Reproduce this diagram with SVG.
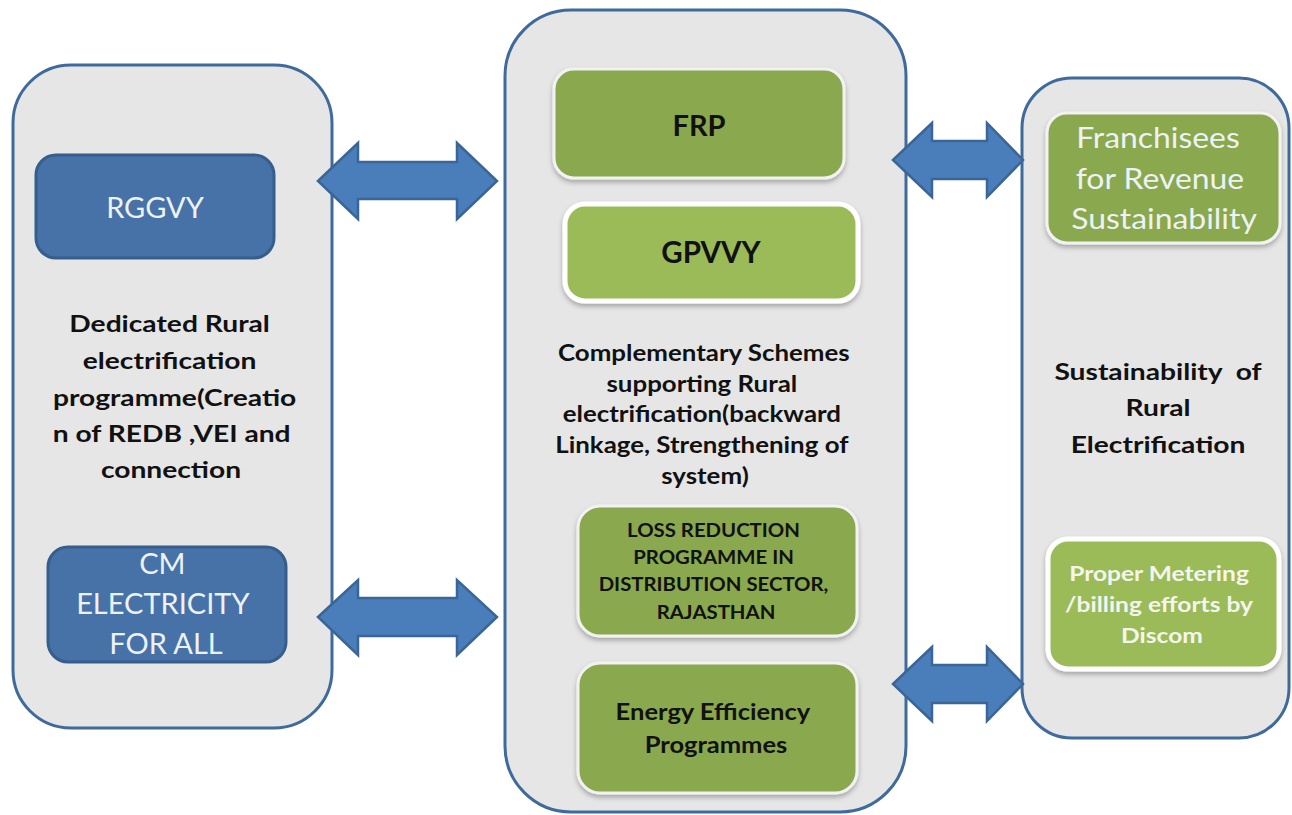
<svg xmlns="http://www.w3.org/2000/svg" width="1292" height="815" viewBox="0 0 1292 815">
  <defs>
    <filter id="shadow" x="-10%" y="-10%" width="120%" height="130%">
      <feDropShadow dx="0" dy="3" stdDeviation="2.5" flood-color="#000" flood-opacity="0.28"/>
    </filter>
    <style>
      .panel { fill: #e6e6e6; stroke: #3e6a9c; stroke-width: 3; }
      .blue { fill: #4672a8; stroke: #365e8d; stroke-width: 3; }
      .dgreen { fill: #8aa84e; stroke: #f2f2f2; stroke-width: 3; filter: url(#shadow); }
      .lgreen { fill: #9bbb59; stroke: #ffffff; stroke-width: 5; filter: url(#shadow); }
      .arrow { fill: #4a7ebb; stroke: #3a6596; stroke-width: 2.5; stroke-linejoin: miter; }
      text { font-family: Lato, "Liberation Sans", sans-serif; text-anchor: middle; }
      .dark { fill: #111; font-weight: bold; }
      .light { fill: #eef2f6; }
      .lightb { fill: #f4f6ee; font-weight: bold; }
    </style>
  </defs>

  <rect width="1292" height="815" fill="#ffffff"/>

  <!-- Left panel: dedicated rural electrification -->
  <g id="panel-dedicated">
    <rect class="panel" x="13" y="65" width="319" height="663" rx="58" ry="58"/>
    <text class="dark" font-size="23.5" transform="translate(173 0) scale(1.2 1)">
      <tspan x="0" y="332">Dedicated Rural</tspan>
      <tspan x="0" y="369">electrification</tspan>
      <tspan x="4.2" y="406">programme(Creatio</tspan>
      <tspan x="1.7" y="442">n of REDB ,VEI and</tspan>
      <tspan x="-1.7" y="478">connection</tspan>
    </text>
  </g>
  <g id="rggvy">
    <rect class="blue" x="36" y="155" width="238" height="103" rx="20" ry="20"/>
    <text class="light" x="155" y="218" font-size="29">RGGVY</text>
  </g>
  <g id="cm-electricity">
    <rect class="blue" x="48" y="547" width="238" height="115" rx="20" ry="20"/>
    <text class="light" font-size="29">
      <tspan x="166" y="574">CM</tspan>
      <tspan x="166" y="614">ELECTRICITY</tspan>
      <tspan x="166" y="654">FOR ALL</tspan>
    </text>
  </g>

  <!-- Middle panel: complementary schemes -->
  <g id="panel-complementary">
    <rect class="panel" x="505" y="10" width="401" height="802" rx="66" ry="66"/>
    <text class="dark" font-size="22.5" transform="translate(705 0) scale(1.15 1)">
      <tspan x="1.7" y="361">Complementary Schemes</tspan>
      <tspan x="0" y="392">supporting Rural</tspan>
      <tspan x="0" y="422">electrification(backward</tspan>
      <tspan x="0" y="453">Linkage, Strengthening of</tspan>
      <tspan x="0" y="484">system)</tspan>
    </text>
  </g>
  <g id="frp">
    <rect class="dgreen" x="554" y="69" width="290" height="109" rx="20" ry="20"/>
    <text class="dark" x="699" y="136" font-size="29">FRP</text>
  </g>
  <g id="gpvvy">
    <rect class="lgreen" x="565" y="204" width="293" height="97" rx="20" ry="20"/>
    <text class="dark" x="711" y="263" font-size="29.5">GPVVY</text>
  </g>
  <g id="loss-reduction">
    <rect class="dgreen" x="578" y="506" width="279" height="130" rx="22" ry="22"/>
    <text class="dark" font-size="18.5" transform="translate(716 0) scale(1.1 1)">
      <tspan x="0" y="537">LOSS REDUCTION</tspan>
      <tspan x="0" y="564">PROGRAMME IN</tspan>
      <tspan x="0" y="591">DISTRIBUTION SECTOR,</tspan>
      <tspan x="0" y="619">RAJASTHAN</tspan>
    </text>
  </g>
  <g id="energy-efficiency">
    <rect class="dgreen" x="578" y="663" width="279" height="130" rx="22" ry="22"/>
    <text class="dark" font-size="23" transform="translate(716 0) scale(1.11 1)">
      <tspan x="0" y="720">Energy Efficiency</tspan>
      <tspan x="0" y="753">Programmes</tspan>
    </text>
  </g>

  <!-- Right panel: sustainability -->
  <g id="panel-sustainability">
    <rect class="panel" x="1022" y="78" width="267" height="660" rx="50" ry="50"/>
    <text class="dark" font-size="23.5" xml:space="preserve" style="white-space:pre" transform="translate(1158 0) scale(1.2 1)"><tspan x="0" y="380">Sustainability  of</tspan><tspan x="0" y="416">Rural</tspan><tspan x="0" y="453">Electrification</tspan></text>
  </g>
  <g id="franchisees">
    <rect class="dgreen" x="1047" y="113" width="233" height="130" rx="20" ry="20"/>
    <text class="light" font-size="29" transform="translate(1164 0) scale(1.1 1)">
      <tspan x="-1.8" y="148">Franchisees</tspan>
      <tspan x="0" y="189">for Revenue</tspan>
      <tspan x="0" y="229">Sustainability</tspan>
    </text>
  </g>
  <g id="proper-metering">
    <rect class="lgreen" x="1048" y="539" width="231" height="130" rx="20" ry="20"/>
    <text class="lightb" font-size="21" transform="translate(1162 0) scale(1.17 1)">
      <tspan x="0" y="581">Proper Metering</tspan>
      <tspan x="0" y="612">/billing efforts by</tspan>
      <tspan x="0" y="643">Discom</tspan>
    </text>
  </g>

  <!-- Two-way block arrows between panels -->
  <g id="connectors">
    <polygon class="arrow" points="318,181 358,143 358,162 457,162 457,143 497,181 457,219 457,199 358,199 358,219"/>
    <polygon class="arrow" points="318,617 358,580 358,598 457,598 457,580 497,617 457,655 457,636 358,636 358,655"/>
    <polygon class="arrow" points="893,160 932,123 932,141 987,141 987,123 1023,160 987,197 987,179 932,179 932,197"/>
    <polygon class="arrow" points="893,684 932,647 932,665 987,665 987,647 1023,684 987,721 987,703 932,703 932,721"/>
  </g>
</svg>
